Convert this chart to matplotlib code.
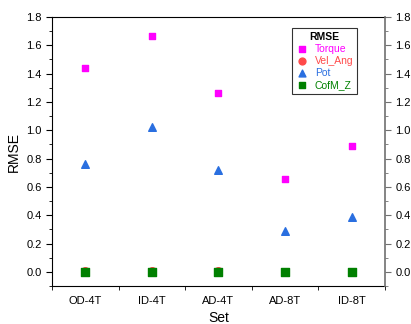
import numpy as np
import matplotlib.pyplot as plt
from matplotlib.ticker import MultipleLocator, FixedLocator

plt.rcParams['font.family'] = ['Liberation Sans', 'DejaVu Sans']

sets = ["OD-4T", "ID-4T", "AD-4T", "AD-8T", "ID-8T"]
torque = [1.44, 1.665, 1.26, 0.655, 0.89]
vel_ang = [0.005, 0.004, 0.004, 0.003, 0.003]
pot = [0.765, 1.02, 0.72, 0.29, 0.39]
cofm_z = [0.002, 0.002, 0.002, 0.001, 0.001]

x = np.arange(len(sets))

fig = plt.figure(figsize=(4.11, 3.24), dpi=100)
ax = fig.add_axes([0.1265, 0.117, 0.81, 0.8305])

ax.scatter(x, torque, marker='s', s=22, color='#FF00FF', label='Torque', zorder=3)
ax.scatter(x, vel_ang, marker='o', s=30, color='#FF4A4A', label='Vel_Ang', zorder=3)
ax.scatter(x, pot, marker='^', s=30, color='#2A6FE0', label='Pot', zorder=3)
ax.scatter(x, cofm_z, marker='s', s=26, color='#008000', label='CofM_Z', zorder=4)

ax.set_xlim(-0.5, 4.5)
ax.set_ylim(-0.1, 1.8)
ax.set_xticks(x)
ax.set_xticklabels(sets)
ax.xaxis.set_minor_locator(FixedLocator(np.arange(-0.5, 4.6, 1.0)))
ax.tick_params(axis='x', which='major', length=0, pad=7, labelsize=8)
ax.tick_params(axis='x', which='minor', length=3, direction='out')
ax.yaxis.set_major_locator(MultipleLocator(0.2))
ax.yaxis.set_minor_locator(MultipleLocator(0.1))
ax.tick_params(axis='y', which='major', length=4, direction='out', labelsize=8)
ax.tick_params(axis='y', which='minor', length=2, direction='out')
ax.set_xlabel("Set", fontsize=10, labelpad=3.5)
ax.set_ylabel("RMSE", fontsize=10)
ax.spines['right'].set_visible(False)

ax2 = ax.twinx()
ax2.set_ylim(-0.1, 1.8)
ax2.yaxis.set_major_locator(MultipleLocator(0.2))
ax2.yaxis.set_minor_locator(MultipleLocator(0.1))
ax2.tick_params(axis='y', which='major', length=4, direction='out', labelsize=8, color='#707070')
ax2.tick_params(axis='y', which='minor', length=2, direction='out', color='#707070')
ax2.spines['right'].set_color('#707070')
ax2.spines['right'].set_linewidth(1.2)
for s in ['left', 'top', 'bottom']:
    ax2.spines[s].set_visible(False)

leg = ax.legend(loc='upper right', bbox_to_anchor=(0.916, 0.959), borderaxespad=0,
                title='RMSE', fontsize=7.5,
                title_fontproperties={'weight': 'bold', 'size': 7.5},
                frameon=True, fancybox=False, edgecolor='black', handletextpad=0.6,
                borderpad=0.35, labelspacing=0.2, handlelength=1.2, markerscale=0.9)
leg.get_frame().set_linewidth(0.8)
for t, c in zip(leg.get_texts(), ['#FF00FF', '#FF4A4A', '#2A6FE0', '#008000']):
    t.set_color(c)

fig.savefig("out.png", dpi=100)
